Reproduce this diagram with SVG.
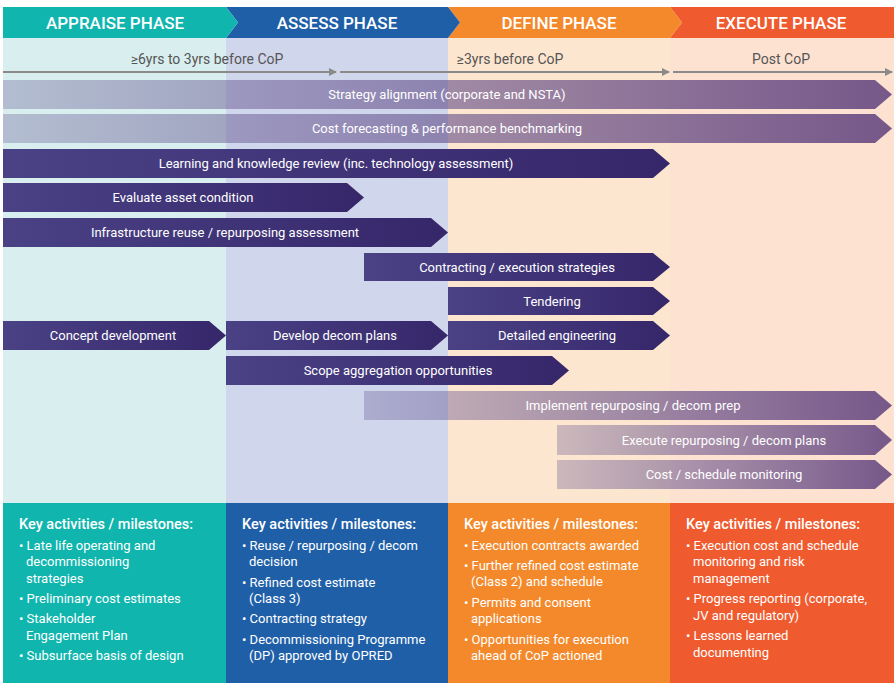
<svg xmlns="http://www.w3.org/2000/svg" width="894" height="683" viewBox="0 0 894 683">
<defs>
<linearGradient id="sol" x1="0" y1="0" x2="1" y2="0"><stop offset="0" stop-color="#4a4285"/><stop offset="1" stop-color="#36266a"/></linearGradient>
<linearGradient id="fad" x1="0" y1="0" x2="1" y2="0"><stop offset="0" stop-color="#5a4c8c" stop-opacity="0.3"/><stop offset="1" stop-color="#5e3f7c" stop-opacity="0.85"/></linearGradient>
<marker id="ar" markerWidth="8" markerHeight="8" refX="7" refY="4" orient="auto" markerUnits="userSpaceOnUse"><path d="M0,0 L8,4 L0,8 z" fill="#8a8a8a"/></marker>
<style>
.bt{font-family:Roboto,"Liberation Sans",sans-serif;font-size:13px;fill:#fff;text-anchor:middle}
.hd{font-family:Roboto,"Liberation Sans",sans-serif;font-size:17px;font-weight:500;fill:#fff;text-anchor:middle}
.tl{font-family:Roboto,"Liberation Sans",sans-serif;font-size:14px;fill:#555;text-anchor:middle}
.kt{font-family:Roboto,"Liberation Sans",sans-serif;font-size:14.5px;font-weight:500;fill:#fff}
.kb{font-family:Roboto,"Liberation Sans",sans-serif;font-size:13px;fill:#fff}
.ln{stroke:#8a8a8a;stroke-width:2;marker-end:url(#ar)}
</style>
</defs>
<rect width="894" height="683" fill="#fff"/>
<g id="backgrounds">
<rect x="3" y="38" width="223" height="465" fill="#d9eeee"/>
<rect x="226" y="38" width="222" height="465" fill="#d0d6eb"/>
<rect x="448" y="38" width="222" height="465" fill="#fde6d0"/>
<rect x="670" y="38" width="224" height="465" fill="#fde2d2"/>
</g>
<g id="headers">
<path d="M670,7 H894 V38 H670 L682,22.5 Z" fill="#ef5a2e"/>
<path d="M448,7 H670 L682,22.5 L670,38 H448 L460,22.5 Z" fill="#f3892a"/>
<path d="M226,7 H448 L460,22.5 L448,38 H226 L238,22.5 Z" fill="#1f5fa8"/>
<path d="M3,7 H226 L238,22.5 L226,38 H3 Z" fill="#10b5ae"/>
<text class="hd" x="115" y="29">APPRAISE PHASE</text>
<text class="hd" x="337" y="29">ASSESS PHASE</text>
<text class="hd" x="559" y="29">DEFINE PHASE</text>
<text class="hd" x="781" y="29">EXECUTE PHASE</text>
</g>
<g id="connectors">
<line class="ln" x1="3" y1="72" x2="336" y2="72"/>
<line class="ln" x1="340" y1="72" x2="669" y2="72"/>
<line class="ln" x1="673" y1="72" x2="892" y2="72"/>
</g>
<g id="timeline">
<text class="tl" x="207" y="64">≥6yrs to 3yrs before CoP</text>
<text class="tl" x="510" y="64">≥3yrs before CoP</text>
<text class="tl" x="781" y="64">Post CoP</text>
</g>
<g id="b1"><path d="M3,80 H875 L892,94.5 L875,109 H3 Z" fill="url(#fad)"/><text class="bt" x="447" y="99">Strategy alignment (corporate and NSTA)</text></g>
<g id="b2"><path d="M3,114 H875 L892,128.5 L875,143 H3 Z" fill="url(#fad)"/><text class="bt" x="447" y="133">Cost forecasting &amp; performance benchmarking</text></g>
<g id="b3"><path d="M3,149 H653 L670,163.5 L653,178 H3 Z" fill="url(#sol)"/><text class="bt" x="336" y="168">Learning and knowledge review (inc. technology assessment)</text></g>
<g id="b4"><path d="M3,183 H347 L364,197.5 L347,212 H3 Z" fill="url(#sol)"/><text class="bt" x="183" y="202">Evaluate asset condition</text></g>
<g id="b5"><path d="M3,218 H431 L448,232.5 L431,247 H3 Z" fill="url(#sol)"/><text class="bt" x="225" y="237">Infrastructure reuse / repurposing assessment</text></g>
<g id="b6"><path d="M364,253 H653 L670,267 L653,281 H364 Z" fill="url(#sol)"/><text class="bt" x="517" y="272">Contracting / execution strategies</text></g>
<g id="b7"><path d="M448,287 H653 L670,301 L653,315 H448 Z" fill="url(#sol)"/><text class="bt" x="552" y="306">Tendering</text></g>
<g id="b8"><path d="M3,321 H209 L226,335.5 L209,350 H3 Z" fill="url(#sol)"/><text class="bt" x="113" y="340">Concept development</text></g>
<g id="b9"><path d="M226,321 H431 L448,335.5 L431,350 H226 Z" fill="url(#sol)"/><text class="bt" x="335" y="340">Develop decom plans</text></g>
<g id="b10"><path d="M448,321 H653 L670,335.5 L653,350 H448 Z" fill="url(#sol)"/><text class="bt" x="557" y="340">Detailed engineering</text></g>
<g id="b11"><path d="M226,356 H552 L569,370.5 L552,385 H226 Z" fill="url(#sol)"/><text class="bt" x="398" y="375">Scope aggregation opportunities</text></g>
<g id="b12"><path d="M364,391 H875 L892,405.5 L875,420 H364 Z" fill="url(#fad)"/><text class="bt" x="633" y="410">Implement repurposing / decom prep</text></g>
<g id="b13"><path d="M557,425 H875 L892,440 L875,455 H557 Z" fill="url(#fad)"/><text class="bt" x="724" y="445">Execute repurposing / decom plans</text></g>
<g id="b14"><path d="M557,460 H875 L892,474.5 L875,489 H557 Z" fill="url(#fad)"/><text class="bt" x="724" y="479">Cost / schedule monitoring</text></g>
<g id="k1"><rect x="3" y="503" width="223" height="180" fill="#10b5ae"/>
<text class="kt" x="19" y="529">Key activities / milestones:</text>
<text class="kb" x="19" y="550">• Late life operating and</text><text class="kb" x="26" y="566">decommissioning</text><text class="kb" x="26" y="583">strategies</text>
<text class="kb" x="19" y="603">• Preliminary cost estimates</text>
<text class="kb" x="19" y="623">• Stakeholder</text><text class="kb" x="26" y="640">Engagement Plan</text>
<text class="kb" x="19" y="660">• Subsurface basis of design</text></g>
<g id="k2"><rect x="226" y="503" width="222" height="180" fill="#1f5fa8"/>
<text class="kt" x="242" y="529">Key activities / milestones:</text>
<text class="kb" x="242" y="550">• Reuse / repurposing / decom</text><text class="kb" x="249" y="566">decision</text>
<text class="kb" x="242" y="587">• Refined cost estimate</text><text class="kb" x="249" y="603">(Class 3)</text>
<text class="kb" x="242" y="623">• Contracting strategy</text>
<text class="kb" x="242" y="644">• Decommissioning Programme</text><text class="kb" x="249" y="660">(DP) approved by OPRED</text></g>
<g id="k3"><rect x="448" y="503" width="222" height="180" fill="#f3892a"/>
<text class="kt" x="464" y="529">Key activities / milestones:</text>
<text class="kb" x="464" y="550">• Execution contracts awarded</text>
<text class="kb" x="464" y="570">• Further refined cost estimate</text><text class="kb" x="471" y="586">(Class 2) and schedule</text>
<text class="kb" x="464" y="607">• Permits and consent</text><text class="kb" x="471" y="623">applications</text>
<text class="kb" x="464" y="644">• Opportunities for execution</text><text class="kb" x="471" y="660">ahead of CoP actioned</text></g>
<g id="k4"><rect x="670" y="503" width="224" height="180" fill="#ef5a2e"/>
<text class="kt" x="686" y="529">Key activities / milestones:</text>
<text class="kb" x="686" y="550">• Execution cost and schedule</text><text class="kb" x="693" y="566">monitoring and risk</text><text class="kb" x="693" y="583">management</text>
<text class="kb" x="686" y="603">• Progress reporting (corporate,</text><text class="kb" x="693" y="620">JV and regulatory)</text>
<text class="kb" x="686" y="640">• Lessons learned</text><text class="kb" x="693" y="657">documenting</text></g>
</svg>
